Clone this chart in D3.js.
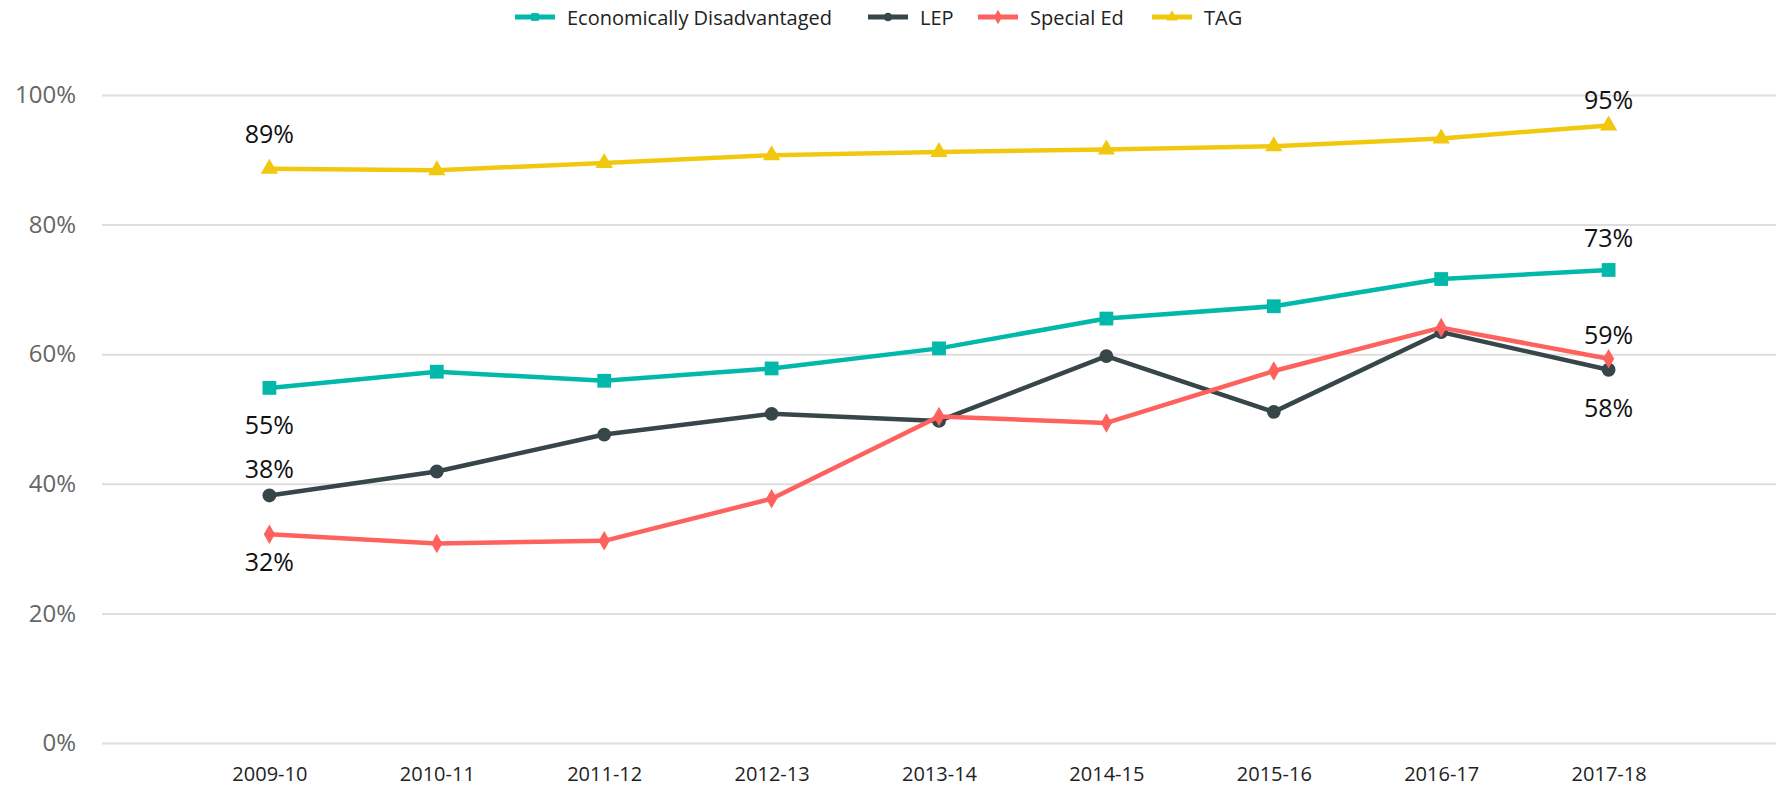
<!DOCTYPE html>
<html>
<head>
<meta charset="utf-8">
<script src="https://cdn.jsdelivr.net/npm/d3@7"></script>
<style>
  body { margin: 0; background: #fff; }
  svg { display: block; font-family: "Segoe UI", "Open Sans", sans-serif; }
</style>
</head>
<body>
<div class="chart"></div>
<script>
// data
const years = ['2009-10','2010-11','2011-12','2012-13','2013-14','2014-15','2015-16','2016-17','2017-18'];
const econ   = [54.8, 57.3, 55.9, 57.8, 60.9, 65.5, 67.4, 71.6, 73.0];
const lep    = [38.2, 41.9, 47.6, 50.8, 49.7, 59.7, 51.1, 63.4, 57.6];
const sped   = [32.2, 30.8, 31.2, 37.7, 50.4, 49.4, 57.4, 64.1, 59.3];
const tag    = [88.6, 88.4, 89.5, 90.7, 91.2, 91.6, 92.1, 93.3, 95.3];
const yTicks = [0, 20, 40, 60, 80, 100];

const series = [
  {name: 'Economically Disadvantaged', values: econ, color: '#01b8aa', symbol: d3.symbolSquare, size: 190,
   labels: [{i: 0, dy: 36}, {i: 8, dy: -33}]},
  {name: 'LEP', values: lep, color: '#374649', symbol: d3.symbolCircle, size: 150,
   labels: [{i: 0, dy: -27}, {i: 8, dy: 37}]},
  {name: 'Special Ed', values: sped, color: '#fd625e', symbol: d3.symbolDiamond, size: 110,
   labels: [{i: 0, dy: 27}, {i: 8, dy: -25}]},
  {name: 'TAG', values: tag, color: '#f2c80f', symbol: d3.symbolTriangle, size: 130,
   labels: [{i: 0, dy: -36}, {i: 8, dy: -26}]}
];

const width = 1778, height = 790;
const margin = {top: 95, right: 2, bottom: 47, left: 102};

const svg = d3.select('.chart').append('svg')
  .attr('width', width)
  .attr('height', height);

const x = d3.scalePoint().domain(years).range([margin.left, width - margin.right]).padding(1);
const y = d3.scaleLinear().domain([0, 100]).range([height - margin.bottom, margin.top]);

// grid + y labels
const yAxis = d3.axisLeft(y).tickValues(yTicks)
  .tickFormat(d => d + '%')
  .tickSize(-(width - margin.right - margin.left))
  .tickPadding(26);
const yG = svg.append('g')
  .attr('transform', `translate(${margin.left},0)`)
  .call(yAxis);
yG.select('.domain').remove();
yG.selectAll('line').attr('stroke', '#dedede').attr('stroke-width', 2);
yG.selectAll('text').attr('fill', '#666').style('font-size', '24px').style('font-family', '"Open Sans", sans-serif');

// x labels
const xG = svg.append('g')
  .attr('transform', `translate(0,${height - margin.bottom})`)
  .call(d3.axisBottom(x).tickSize(0).tickPadding(24));
xG.select('.domain').remove();
xG.selectAll('text').attr('fill', '#222').style('font-size', '20px').style('font-family', '"Liberation Sans Narrow", "Open Sans", sans-serif');

const line = d3.line().x((d, i) => x(years[i])).y(d => y(d));

series.forEach(s => {
  svg.append('path')
    .datum(s.values)
    .attr('fill', 'none')
    .attr('stroke', s.color)
    .attr('stroke-width', 4.5)
    .attr('stroke-linejoin', 'round')
    .attr('d', line);

  svg.selectAll(null)
    .data(s.values)
    .enter()
    .append('path')
    .attr('d', d3.symbol().type(s.symbol).size(s.size))
    .attr('transform', (d, i) => `translate(${x(years[i])},${y(d)})`)
    .attr('fill', s.color);

  s.labels.forEach(l => {
    svg.append('text')
      .attr('x', x(years[l.i]))
      .attr('y', y(s.values[l.i]) + l.dy)
      .attr('text-anchor', 'middle')
      .attr('dominant-baseline', 'central')
      .style('font-size', '25px')
      .style('font-family', '"Open Sans", sans-serif')
      .attr('fill', '#111')
      .text(Math.round(s.values[l.i]) + '%');
  });
});

// legend
const legendX = [515, 868, 978, 1152];
const legend = svg.append('g').attr('transform', 'translate(0,17)');
series.forEach((s, k) => {
  const g = legend.append('g').attr('transform', `translate(${legendX[k]},0)`);
  g.append('line').attr('x1', 0).attr('x2', 40).attr('stroke', s.color).attr('stroke-width', 5);
  g.append('path').attr('d', d3.symbol().type(s.symbol).size(60)).attr('transform', 'translate(20,0)').attr('fill', s.color);
  g.append('text').attr('x', 52).attr('dominant-baseline', 'central')
    .style('font-size', '20px').style('font-family', '"Open Sans", sans-serif')
    .attr('fill', '#222').text(s.name);
});
</script>
</body>
</html>
